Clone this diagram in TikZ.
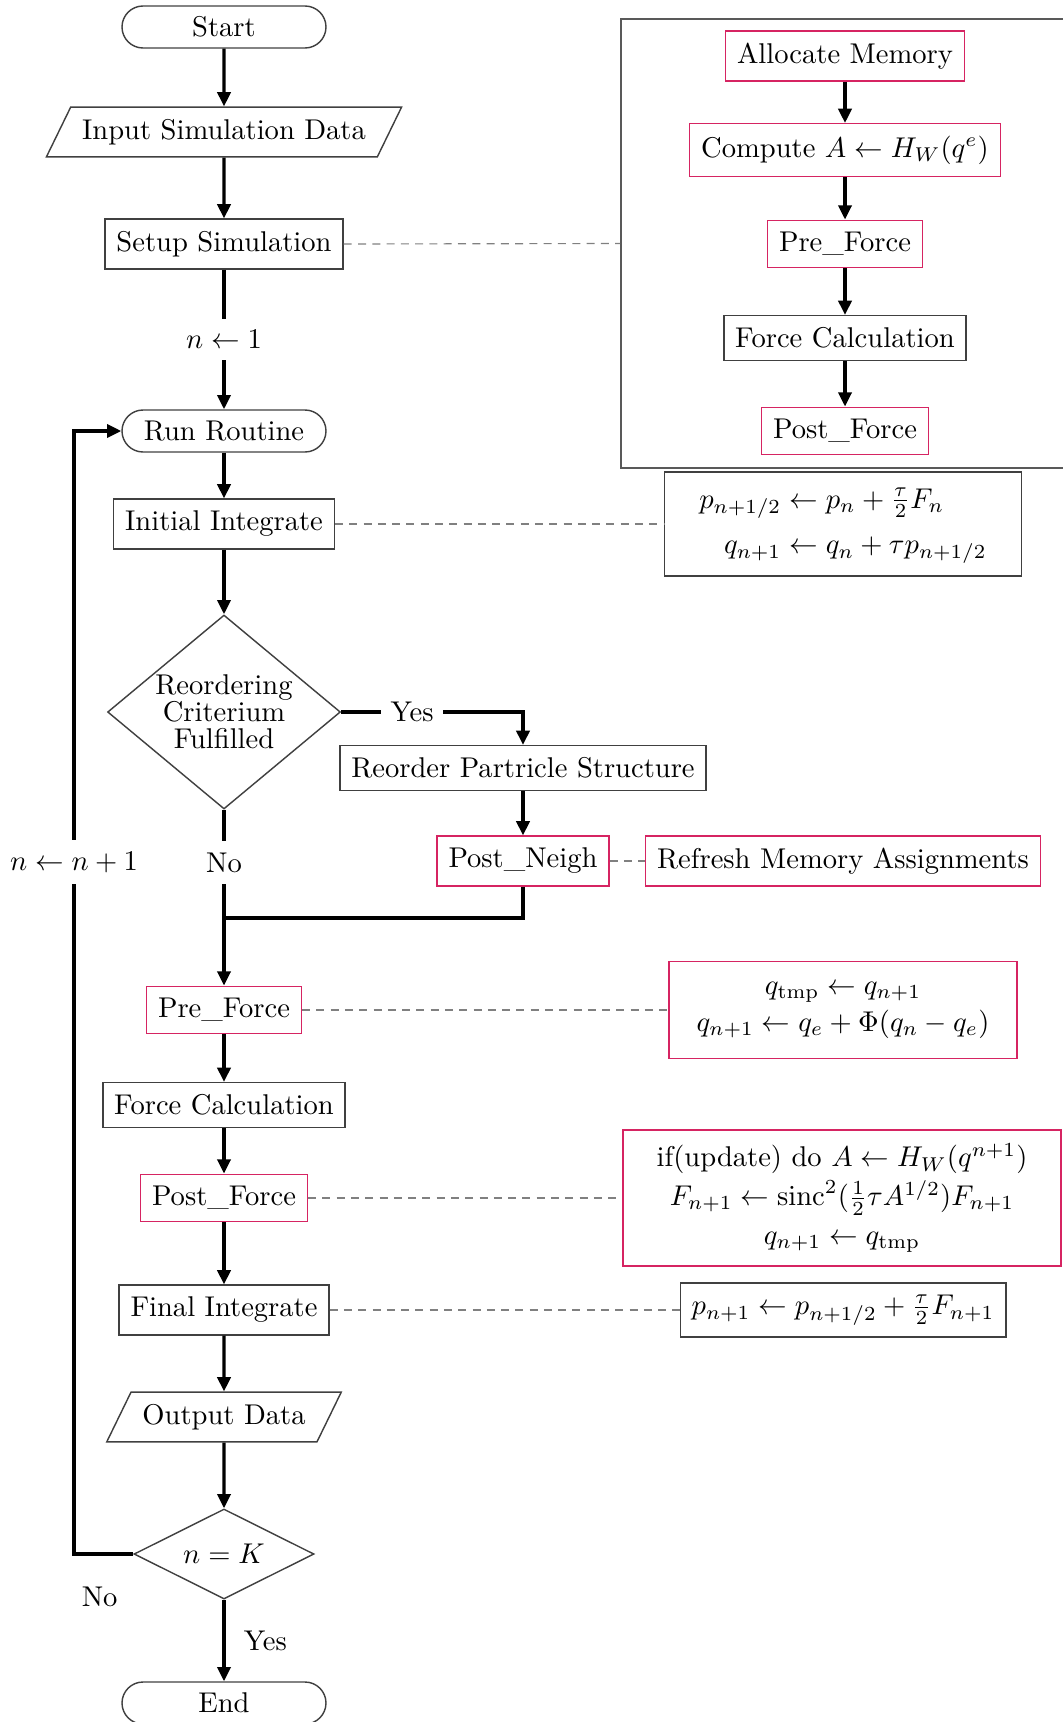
\documentclass[tikz,border=0pt]{standalone}
\usepackage{amsmath}
\usetikzlibrary{arrows.meta,%
                shapes.geometric,%
                positioning}
\definecolor{hookpink}{RGB}{214,36,98}

\tikzset{
  flow/.style={draw=black!75,line width=0.5pt,inner xsep=4pt,inner ysep=4.2pt},
  hook/.style={flow,draw=hookpink},
  term/.style={flow,rounded corners=7.35pt,minimum width=71.4pt,minimum height=14.7pt,inner ysep=2pt},
  io/.style={flow,trapezium,trapezium left angle=64,trapezium right angle=116},
  decide/.style={flow,diamond,inner sep=0pt,align=center},
  eqbox/.style={flow,align=center},
  arr/.style={line width=1.2pt,-{Triangle[length=5pt,width=4.6pt]}},
  link/.style={line width=1.2pt},
  aside/.style={draw=black!50,line width=0.4pt,dash pattern=on 2.8pt off 2.2pt},
}

\begin{document}
\begin{tikzpicture}[x=0.35pt,y=-0.35pt]
      \useasboundingbox (0,0) rectangle (1062,1722);

      % main loop
      \node (start)  [term] at (224,27)  {Start};
      \node (input)  [io]   at (224,132) {Input Simulation Data};
      \node (setup)  [flow] at (224,244) {Setup Simulation};
      \node (run)    [term] at (224,431) {Run Routine};
      \node (init)   [flow] at (224,524) {Initial Integrate};
      \node (reo)    [decide,aspect=1.2,minimum width=81.5pt,minimum height=67.9pt,
                      font=\fontsize{10}{9.5}\selectfont] at (224,712)
                     {Reordering\\Criterium\\Fulfilled};
      \node (reord)  [flow] at (523,768) {Reorder Partricle Structure};
      \node (pneigh) [hook] at (523,861) {Post\_Neigh};
      \node (refresh)[hook] at (843,861) {Refresh Memory Assignments};
      \node (prem)   [hook] at (224,1010) {Pre\_Force};
      \node (forcem) [flow] at (224,1105) {Force Calculation};
      \node (postm)  [hook] at (224,1198) {Post\_Force};
      \node (final)  [flow] at (224,1310) {Final Integrate};
      \node (output) [io]   at (224,1417) {Output Data};
      \node (nk)     [decide,aspect=2,minimum width=63pt,minimum height=31.5pt]
                     at (224,1554) {$n = K$};
      \node (end)    [term] at (224,1703) {End};

      % setup group
      \node (group) [draw=black!65,line width=0.5pt,minimum width=160.7pt,
                     minimum height=157.2pt] at (850.5,243.5) {};
      \node (alloc)   [hook] at (845,56)  {Allocate Memory};
      \node (compute) [hook] at (845,150) {Compute $A \leftarrow H_W(q^e)$};
      \node (pref)    [hook] at (845,244) {Pre\_Force};
      \node (forcef)  [flow] at (845,338) {Force Calculation};
      \node (postf)   [hook] at (845,431) {Post\_Force};

      % formulas
      \node (eqinit) [eqbox,minimum width=125pt,minimum height=33.6pt] at (843,524)
        {$\begin{aligned} p_{n+1/2} &\leftarrow p_n + \tfrac{\tau}{2}F_n\\[1pt]
                          q_{n+1} &\leftarrow q_n + \tau p_{n+1/2}\end{aligned}$};
      \node (eqpre) [eqbox,draw=hookpink,minimum width=121.8pt,minimum height=34pt]
        at (843,1010)
        {$q_{\mathrm{tmp}} \leftarrow q_{n+1}$\\[1pt]
         $q_{n+1} \leftarrow q_e + \Phi(q_n - q_e)$};
      \node (eqpost) [eqbox,draw=hookpink,minimum width=153.3pt,minimum height=47.6pt]
        at (842,1198)
        {if(update) do $A \leftarrow H_W(q^{n+1})$\\[1.5pt]
         $F_{n+1} \leftarrow \mathrm{sinc}^2(\tfrac{1}{2}\tau A^{1/2})F_{n+1}$\\[1.5pt]
         $q_{n+1} \leftarrow q_{\mathrm{tmp}}$};
      \node (eqfinal) [eqbox,minimum width=105.4pt,minimum height=18.9pt] at (843,1310)
        {$p_{n+1} \leftarrow p_{n+1/2} + \tfrac{\tau}{2}F_{n+1}$};

      \coordinate (join)    at (224,918);
      \coordinate (loopbot) at (74,1554);
      \coordinate (looptop) at (74,431);

      % connectors
      \draw[arr] (start) -- (input);
      \draw[arr] (input) -- (setup);
      \draw[arr] (setup) -- node[fill=white,inner sep=4pt] {$n \leftarrow 1$} (run);
      \draw[arr] (run) -- (init);
      \draw[arr] (init) -- (reo);
      \draw[arr] (reo.east) -- node[pos=0.39,fill=white] {Yes}
                 (reo.east -| reord.north) -- (reord.north);
      \draw[arr] (reord) -- (pneigh);
      \draw[arr] (reo.south) -- node[pos=0.3,fill=white,inner sep=4pt] {No} (prem.north);
      \draw[link] (pneigh.south) |- (join);
      \draw[arr] (prem) -- (forcem);
      \draw[arr] (forcem) -- (postm);
      \draw[arr] (postm) -- (final);
      \draw[arr] (final) -- (output);
      \draw[arr] (output) -- (nk);
      \draw[arr] (nk) -- node[right=3pt] {Yes} (end);
      \draw[arr] (nk.west) -- (loopbot) --
                 node[pos=0.616,fill=white,inner sep=4pt] {$n \leftarrow n+1$}
                 (looptop) -- (run.west);
      \node (nolab) [below left=8pt and 2pt of nk.west] {No};

      \draw[arr] (alloc) -- (compute);
      \draw[arr] (compute) -- (pref);
      \draw[arr] (pref) -- (forcef);
      \draw[arr] (forcef) -- (postf);

      % side notes
      \draw[aside] (setup.east) -- (group.west);
      \draw[aside] (init.east) -- (eqinit.west);
      \draw[aside] (pneigh.east) -- (refresh.west);
      \draw[aside] (prem.east) -- (eqpre.west);
      \draw[aside] (postm.east) -- (eqpost.west);
      \draw[aside] (final.east) -- (eqfinal.west);
\end{tikzpicture}
\end{document}
